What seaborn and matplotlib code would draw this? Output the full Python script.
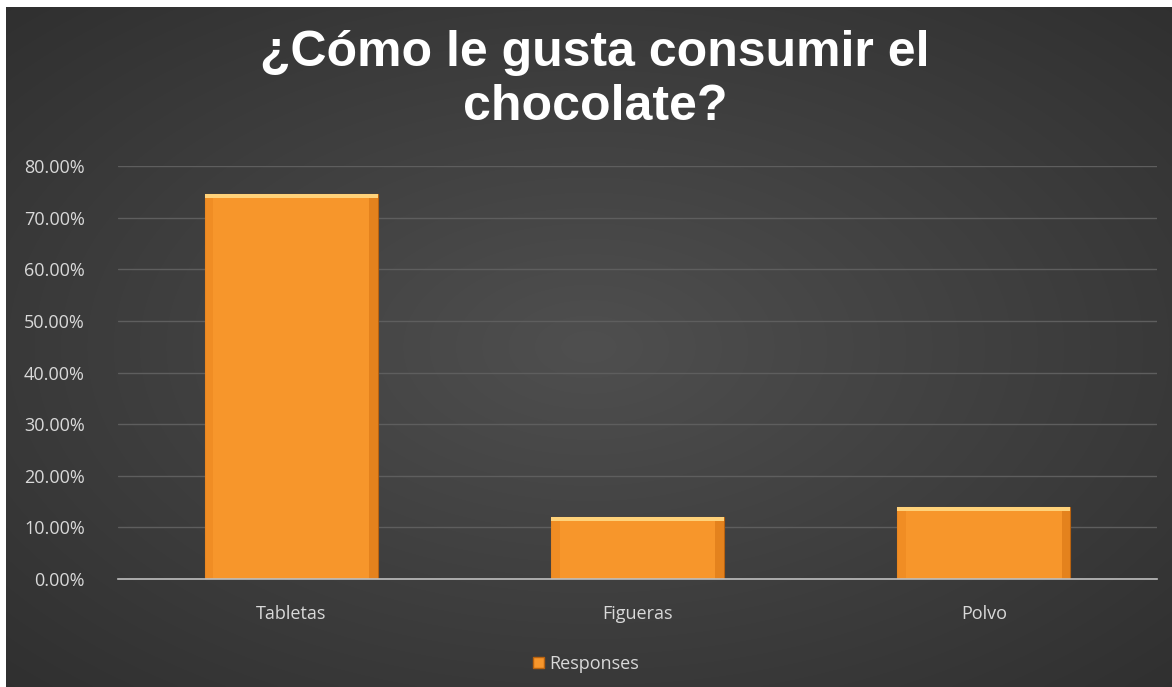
import numpy as np
import pandas as pd
import matplotlib
matplotlib.use("Agg")
import matplotlib.pyplot as plt
from matplotlib.ticker import PercentFormatter, MultipleLocator
from matplotlib.patches import Rectangle
import seaborn as sns

categories = ["Tabletas", "Figueras", "Polvo"]
responses = [0.745, 0.120, 0.139]
series_name = "Responses"
title = "¿Cómo le gusta consumir el\nchocolate?"

df = pd.DataFrame({"Opción": categories, "valor": responses, "serie": series_name})

sns.set_theme(style="dark")
plt.rcParams["font.family"] = ["Liberation Sans", "DejaVu Sans"]

W, H, DPI = 1172, 687, 100
fig = plt.figure(figsize=(W / DPI, H / DPI), dpi=DPI)
fig.patch.set_facecolor("white")

# dark chart area with a soft radial glow
bg = fig.add_axes([6 / W, 0, 1 - 6 / W, 1 - 7 / H])
bg.set_axis_off()
yy, xx = np.mgrid[0:1:300j, 0:1:500j]
r = np.sqrt(((xx - 0.5) / 0.75) ** 2 + ((yy - 0.5) / 0.75) ** 2)
shade = 0.31 - 0.13 * np.clip(r, 0, 1)
bg.imshow(np.dstack([shade, shade, shade]), aspect="auto", extent=[0, 1, 0, 1],
          interpolation="bilinear")
bg.set_xlim(0, 1)
bg.set_ylim(0, 1)

ax = fig.add_axes([118 / W, 1 - 579 / H, (1157 - 118) / W, (579 - 166) / H])
ax.set_facecolor("none")

sns.barplot(data=df, x="Opción", y="valor", hue="serie", palette=["#F7962B"],
            saturation=1, width=0.5, ax=ax, legend=False, zorder=3)

# bevelled look: light top rim and slightly darker sides
for p in ax.patches:
    x0, y0, w, h = p.get_x(), p.get_y(), p.get_width(), p.get_height()
    p.set_edgecolor("#B8620F")
    p.set_linewidth(0.8)
    ax.add_patch(Rectangle((x0, y0 + h - 0.007), w, 0.007, facecolor="#FFD27A",
                           edgecolor="none", zorder=4))
    ax.add_patch(Rectangle((x0, y0), w * 0.05, h - 0.007, facecolor="#F08C24",
                           edgecolor="none", zorder=4, alpha=0.9))
    ax.add_patch(Rectangle((x0 + w * 0.95, y0), w * 0.05, h - 0.007, facecolor="#E2801C",
                           edgecolor="none", zorder=4, alpha=0.9))

ax.set_ylim(0, 0.8)
ax.set_xlim(-0.5, 2.5)
ax.yaxis.set_major_locator(MultipleLocator(0.1))
ax.yaxis.set_major_formatter(PercentFormatter(xmax=1, decimals=2))
ax.grid(axis="y", color="#5E5E5E", linewidth=1, zorder=0)
ax.grid(axis="x", visible=False)
for s in ["top", "right", "left"]:
    ax.spines[s].set_visible(False)
ax.spines["bottom"].set_color("#BFBFBF")
ax.spines["bottom"].set_linewidth(1.2)
ax.spines["bottom"].set_zorder(5)
ax.tick_params(axis="both", length=0, colors="#D9D9D9", labelsize=13)
ax.tick_params(axis="x", pad=19)
ax.tick_params(axis="y", pad=24)
for lab in ax.get_xticklabels() + ax.get_yticklabels():
    lab.set_color("#D9D9D9")
    lab.set_family(["Open Sans", "DejaVu Sans"])
ax.set_xlabel("")
ax.set_ylabel("")

fig.text(595 / W, 1 - 80 / H, title, ha="center", va="center", color="white",
         fontsize=36, fontweight="bold", linespacing=1.25)

# legend
handle = Rectangle((0, 0), 1, 1, facecolor="#F7962B", edgecolor="#B8620F")
leg = fig.legend([handle], [series_name], loc="center", bbox_to_anchor=(0.5, 1 - 664 / H),
                 frameon=False, handlelength=0.6, handleheight=0.6, handletextpad=0.3,
                 prop={"family": ["Open Sans", "DejaVu Sans"], "size": 13})
for t in leg.get_texts():
    t.set_color("#D9D9D9")

fig.savefig("out.png", dpi=DPI, facecolor=fig.get_facecolor())
